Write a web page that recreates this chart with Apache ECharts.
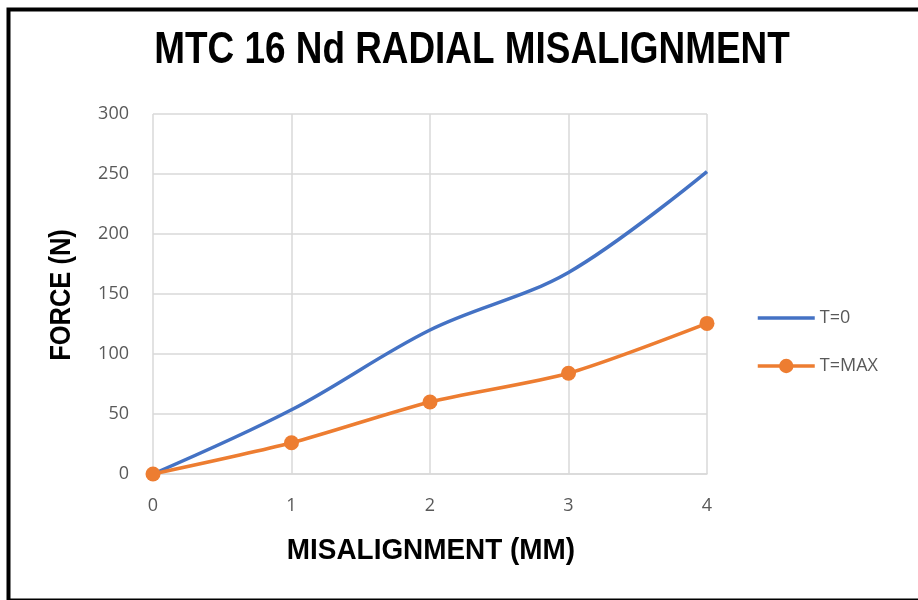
<!DOCTYPE html>
<html><head><meta charset="utf-8">
<script src="https://cdn.jsdelivr.net/npm/echarts@6/dist/echarts.min.js"></script>
<style>html,body{margin:0;padding:0;background:#fff}#c{width:918px;height:600px}</style>
</head><body><div id="c"></div>
<script>
const xValues = [0, 1, 2, 3, 4];
const seriesNames = ['T=0', 'T=MAX'];
const t0Values = [0, 53.5, 120, 168, 252];
const tMaxValues = [0, 26, 60, 84, 125.5];
const yTicks = [0, 50, 100, 150, 200, 250, 300];
const chartTitle = 'MTC 16 Nd RADIAL MISALIGNMENT';
const xTitle = 'MISALIGNMENT (MM)';
const yTitle = 'FORCE (N)';

const chart = echarts.init(document.getElementById('c'), null, {renderer: 'canvas'});
const labelColor = '#595959';
const boldFont = 'Liberation Sans, Arial, sans-serif';
chart.setOption({
  animation: false,
  backgroundColor: '#fff',
  graphic: [
    {
      type: 'rect', left: 6, top: 7, silent: true, z: 10,
      shape: {x: 0, y: 0, width: 960, height: 591},
      style: {fill: 'none', stroke: '#000', lineWidth: 4}
    },
    {
      type: 'text', x: 472, y: 51, scaleX: 0.82, silent: true,
      style: {text: chartTitle, fontFamily: boldFont, fontWeight: 'bold', fontSize: 45, fill: '#000', align: 'center', verticalAlign: 'middle'}
    },
    {
      type: 'text', x: 431, y: 551, scaleX: 0.93, silent: true,
      style: {text: xTitle, fontFamily: boldFont, fontWeight: 'bold', fontSize: 30, fill: '#000', align: 'center', verticalAlign: 'middle'}
    },
    {
      type: 'text', x: 62, y: 295, scaleX: 0.85, rotation: Math.PI / 2, silent: true,
      style: {text: yTitle, fontFamily: boldFont, fontWeight: 'bold', fontSize: 30, fill: '#000', align: 'center', verticalAlign: 'middle'}
    }
  ],
  legend: {
    orient: 'vertical', left: 751, top: 304, itemGap: 30,
    itemWidth: 57, itemHeight: 18,
    textStyle: {color: labelColor, fontSize: 18, fontFamily: 'Open Sans'},
    lineStyle: {width: 3.5},
    data: [
      {name: seriesNames[0], itemStyle: {color: 'transparent', borderColor: 'transparent', opacity: 0}},
      {name: seriesNames[1]}
    ]
  },
  grid: {left: 153, right: 211, top: 114, bottom: 126},
  xAxis: {
    type: 'value', min: 0, max: 4, interval: 1,
    axisLine: {show: true, lineStyle: {color: '#d9d9d9', width: 1.5}},
    axisTick: {show: false},
    axisLabel: {color: labelColor, fontSize: 18, margin: 23, fontFamily: 'Open Sans', formatter: v => xValues.includes(v) ? String(v) : ''},
    splitLine: {show: true, lineStyle: {color: '#d9d9d9', width: 1.5}}
  },
  yAxis: {
    type: 'value', min: yTicks[0], max: yTicks[yTicks.length - 1], interval: 50,
    axisLine: {show: false}, axisTick: {show: false},
    axisLabel: {color: labelColor, fontSize: 18, margin: 24, fontFamily: 'Open Sans'},
    splitLine: {show: true, lineStyle: {color: '#d9d9d9', width: 1.5}}
  },
  series: [
    {
      name: seriesNames[0], type: 'line', smooth: 0.35,
      data: xValues.map((x, i) => [x, t0Values[i]]),
      showSymbol: false, symbol: 'circle', symbolSize: 0,
      lineStyle: {color: '#4472C4', width: 3.5}, itemStyle: {color: '#4472C4'}
    },
    {
      name: seriesNames[1], type: 'line', smooth: 0.25,
      data: xValues.map((x, i) => [x, tMaxValues[i]]),
      symbol: 'circle', symbolSize: 15,
      lineStyle: {color: '#ED7D31', width: 3.5}, itemStyle: {color: '#ED7D31'}
    }
  ]
});
</script></body></html>
